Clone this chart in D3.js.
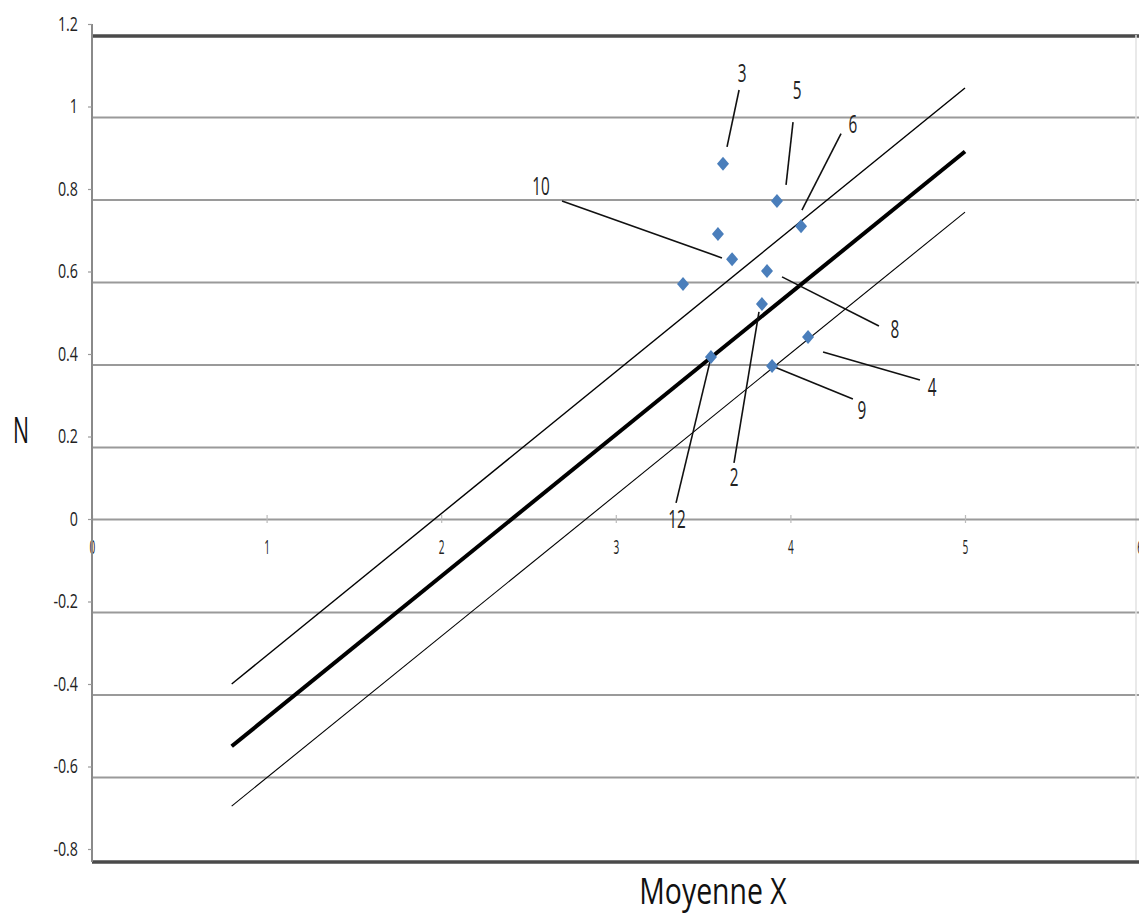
<!DOCTYPE html>
<html><head><meta charset="utf-8">
<script src="https://cdn.jsdelivr.net/npm/d3@7"></script>
<style>body{margin:0;background:#fff}svg{display:block}text{font-family:"Open Sans",sans-serif}</style>
</head><body><svg id="c" width="1139" height="918"></svg>
<script>
// ---- data ----
const xTicks = [0,1,2,3,4,5,6];
const yTicks = [1.2,1,0.8,0.6,0.4,0.2,0,-0.2,-0.4,-0.6,-0.8];
const yTickLabels = ["1.2","1","0.8","0.6","0.4","0.2","0","-0.2","-0.4","-0.6","-0.8"];
const pointX = [3.614,3.923,4.061,3.585,3.666,3.866,3.385,3.837,4.101,3.545,3.895];
const pointY = [0.861,0.771,0.710,0.691,0.630,0.601,0.570,0.521,0.441,0.393,0.371];
const pointLabel = ["3","5","6","","10","8","","2","4","12","9"];
// leader lines: start near point -> end near label (data units), label anchor
const leaderX1 = [3.637,3.975,4.066,null,3.608,3.952,null,3.820,4.187,3.539,3.895];
const leaderY1 = [0.902,0.810,0.749,null,0.633,0.587,null,0.502,0.405,0.381,0.371];
const leaderX2 = [3.706,4.015,4.290,null,2.692,4.507,null,3.677,4.742,3.345,4.358];
const leaderY2 = [1.040,0.962,0.934,null,0.771,0.468,null,0.136,0.337,0.039,0.291];
const labelX   = [3.723,4.038,4.358,null,2.572,4.599,null,3.677,4.811,3.350,4.410];
const labelY   = [1.081,1.040,0.958,null,0.807,0.461,null,0.102,0.320,0.000,0.264];
// regression line and +/- band (endpoints)
const lineX = [0.8, 5.0];
const centralY = [-0.551, 0.891];
const upperY = [-0.400, 1.045];
const lowerY = [-0.696, 0.744];

// ---- drawing ----
const svg = d3.select("#c");
const x = d3.scaleLinear().domain([0,6]).range([92,1139.6]);
const y = d3.scaleLinear().domain([-0.8,1.2]).range([849,24]);
const gridOffset = 11;

// gridlines
svg.append("g").selectAll("line").data(yTicks.filter(v=>v!==0)).join("line")
  .attr("x1",92).attr("x2",1139)
  .attr("y1",d=>y(d)+gridOffset+(d===1.2?1:0)+(d===-0.8?2:0))
  .attr("y2",d=>y(d)+gridOffset+(d===1.2?1:0)+(d===-0.8?2:0))
  .attr("stroke",d=>(d===1.2||d===-0.8)?"#4a4a4a":"#9a9a9a")
  .attr("stroke-width",d=>(d===1.2||d===-0.8)?3.5:1.8);

// right plot border
svg.append("line").attr("x1",1136).attr("x2",1136).attr("y1",y(1.2)+gridOffset).attr("y2",y(-0.8)+gridOffset)
  .attr("stroke","#e2e2e2").attr("stroke-width",1.5);

// x axis at zero
const xAxis = d3.axisBottom(x).tickValues(xTicks).tickSize(0).tickFormat("");
const gx = svg.append("g").attr("transform",`translate(0,${y(0)})`).call(xAxis);
gx.select(".domain").attr("stroke","#9a9a9a").attr("stroke-width",1.8);
gx.selectAll(".tick").append("line").attr("y1",-4).attr("y2",4).attr("stroke","#bbb").attr("stroke-width",1.2);
gx.selectAll(".tick").append("text").text(d=>d)
  .attr("fill","#222").attr("font-size",14).attr("text-anchor","middle")
  .attr("transform","translate(0,35) scale(0.72,1.45)");

// y axis
const yAxis = d3.axisLeft(y).tickValues(yTicks).tickSize(4).tickFormat("");
const gy = svg.append("g").attr("transform","translate(92,0)").call(yAxis);
gy.select(".domain").attr("stroke","#8a8a8a").attr("stroke-width",2).attr("d",`M0,${y(1.2)}V${y(-0.8)+gridOffset+2}`);
gy.selectAll(".tick line").attr("stroke","#999").attr("stroke-width",1.2);
gy.selectAll(".tick").append("text").text((d,i)=>yTickLabels[i])
  .attr("fill","#222").attr("font-size",15).attr("text-anchor","end")
  .attr("transform","translate(-14,6) scale(0.95,1.3)");

// regression lines
const band = [
  {ys: upperY, w: 1.4},
  {ys: centralY, w: 4},
  {ys: lowerY, w: 1.1}
];
const lineGen = d3.line().x(d=>x(d[0])).y(d=>y(d[1]));
svg.append("g").selectAll("path").data(band).join("path")
  .attr("d",b=>lineGen(lineX.map((xv,i)=>[xv,b.ys[i]])))
  .attr("fill","none").attr("stroke","#000").attr("stroke-width",b=>b.w);

// leader lines
const idx = d3.range(pointX.length).filter(i=>leaderX1[i]!==null);
svg.append("g").selectAll("line").data(idx).join("line")
  .attr("x1",i=>x(leaderX1[i])).attr("y1",i=>y(leaderY1[i]))
  .attr("x2",i=>x(leaderX2[i])).attr("y2",i=>y(leaderY2[i]))
  .attr("stroke","#111").attr("stroke-width",1.6);

// points
svg.append("g").selectAll("path").data(d3.range(pointX.length)).join("path")
  .attr("transform",i=>`translate(${x(pointX[i])},${y(pointY[i])})`)
  .attr("d","M0,-7L6,0L0,7L-6,0Z")
  .attr("fill","#4a7ebb");

// data labels
svg.append("g").selectAll("text").data(idx).join("text")
  .attr("transform",i=>`translate(${x(labelX[i])},${y(labelY[i])+9}) scale(0.85,1.4)`)
  .attr("text-anchor","middle").attr("font-size",18).attr("fill","#222")
  .text(i=>pointLabel[i]);

// axis titles
svg.append("text").attr("transform","translate(21,443) scale(0.82,1.4)").attr("text-anchor","middle")
  .attr("font-size",26).attr("fill","#111").text("N");
svg.append("text").attr("transform","translate(713,904) scale(0.98,1.28)").attr("text-anchor","middle")
  .attr("font-size",29).attr("fill","#111").text("Moyenne X");
</script></body></html>
